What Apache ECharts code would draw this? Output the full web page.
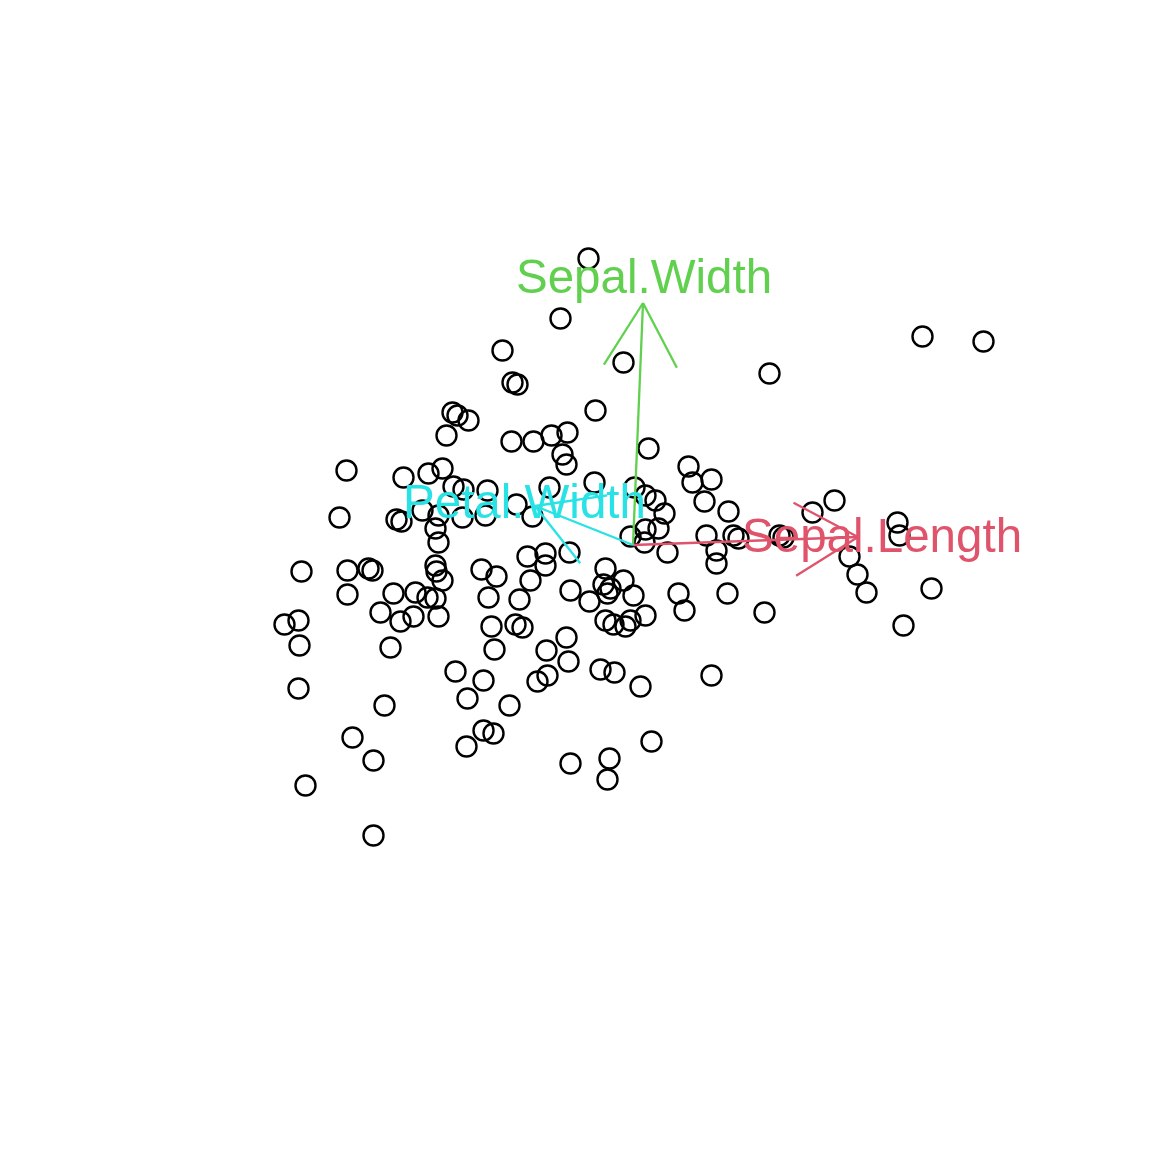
<!DOCTYPE html>
<html><head><meta charset="utf-8">
<script src="https://cdn.jsdelivr.net/npm/echarts@6/dist/echarts.min.js"></script>
<style>html,body{margin:0;padding:0;background:#fff}#c{width:1152px;height:1152px}</style>
</head><body><div id="c"></div>
<script>
// Point scores (in plot units; y grows downward)
const pointX = [588,560,922,983,502,623,769,512,517,595,452,457,468,446,511,533,551,567,648,562,566,346,688,692,711,403,428,442,594,453,463,487,549,634,645,655,704,339,396,401,422,438,462,485,516,532,664,728,812,834,897,899,435,438,630,645,658,644,667,706,733,738,779,783,716,716,849,527,545,569,545,301,347,368,372,435,436,442,481,496,530,605,623,857,603,610,607,570,589,633,678,727,866,931,347,393,415,427,435,488,519,380,400,413,438,684,645,764,605,613,625,630,284,298,515,522,491,903,299,390,494,566,546,568,600,614,455,711,483,537,547,640,298,467,509,384,483,493,352,651,466,373,570,609,607,305,373];
const pointY = [258,318,336,341,350,362,373,382,384,410,412,415,420,435,441,441,435,432,448,454,464,470,466,482,479,477,473,468,482,486,489,490,487,487,495,500,501,517,519,521,510,515,517,515,504,516,513,511,512,500,522,535,528,542,536,529,528,542,552,535,535,538,535,537,550,563,556,556,553,552,565,571,570,568,570,565,571,580,569,576,580,568,580,574,584,588,593,590,601,595,593,593,592,588,594,593,592,597,598,597,599,612,621,616,616,610,615,612,620,624,626,620,624,620,624,627,626,625,645,647,649,637,650,661,669,672,671,675,680,681,675,686,688,698,705,705,730,733,737,741,746,760,763,758,779,785,835];

// Variable loadings (arrow tips) and origin
const arrowNames = ['Sepal.Length', 'Sepal.Width', 'Petal.Width'];
const arrowTipX = [858, 643, 535];
const arrowTipY = [537, 303, 506];
const arrowOrigin = [633, 545];
const arrowColors = ['#DF536B', '#61D04F', '#28E2E5'];

const scatterData = pointX.map((x, i) => [x + 0.5, pointY[i] + 0.5]);
const arrowData = arrowNames.map((n, i) => [arrowOrigin[0], arrowOrigin[1], arrowTipX[i], arrowTipY[i], i]);

const chart = echarts.init(document.getElementById('c'), null, {renderer: 'canvas'});
chart.setOption({
  animation: false,
  backgroundColor: '#ffffff',
  grid: {left: 0, right: 0, top: 0, bottom: 0},
  xAxis: {type: 'value', min: 0, max: 1152, show: false},
  yAxis: {type: 'value', min: 0, max: 1152, inverse: true, show: false},
  series: [
    {
      type: 'scatter',
      data: scatterData,
      symbol: 'circle',
      symbolSize: 20,
      itemStyle: {color: 'rgba(0,0,0,0)', borderColor: '#000', borderWidth: 2.4, opacity: 1},
      emphasis: {disabled: true},
      z: 2
    },
    {
      type: 'custom',
      data: arrowData,
      z: 5,
      renderItem: function (params, api) {
        const o = api.coord([api.value(0), api.value(1)]);
        const t = api.coord([api.value(2), api.value(3)]);
        const idx = api.value(4);
        const col = arrowColors[idx];
        const ang = Math.atan2(o[1] - t[1], o[0] - t[0]);
        const hl = 73, ha = Math.PI / 6;
        const h1 = [t[0] + hl * Math.cos(ang + ha), t[1] + hl * Math.sin(ang + ha)];
        const h2 = [t[0] + hl * Math.cos(ang - ha), t[1] + hl * Math.sin(ang - ha)];
        const lp = [o[0] + 1.107 * (t[0] - o[0]), o[1] + 1.107 * (t[1] - o[1]) + 3];
        const ls = {stroke: col, lineWidth: 2.3, fill: null};
        return {
          type: 'group',
          children: [
            {type: 'line', shape: {x1: o[0], y1: o[1], x2: t[0], y2: t[1]}, style: ls},
            {type: 'line', shape: {x1: t[0], y1: t[1], x2: h1[0], y2: h1[1]}, style: ls},
            {type: 'line', shape: {x1: t[0], y1: t[1], x2: h2[0], y2: h2[1]}, style: ls},
            {type: 'text', x: lp[0], y: lp[1], style: {
              text: arrowNames[idx], fill: col, font: '47.5px "Liberation Sans", Arial, sans-serif',
              align: 'center', verticalAlign: 'middle'
            }}
          ]
        };
      }
    }
  ]
});
</script>
</body></html>
